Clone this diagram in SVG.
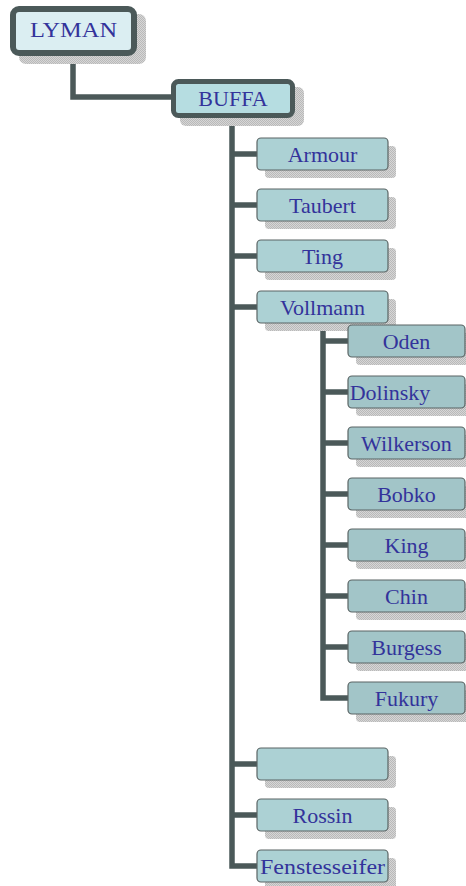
<svg xmlns="http://www.w3.org/2000/svg" width="466" height="886" viewBox="0 0 466 886">
  <defs>
    <!-- dithered grey used for the drop shadows -->
    <pattern id="dither" width="2" height="2" patternUnits="userSpaceOnUse">
      <rect width="2" height="2" fill="#d6d6d6"/>
      <rect width="1" height="1" fill="#b9b9b9"/>
      <rect x="1" y="1" width="1" height="1" fill="#b9b9b9"/>
    </pattern>
  </defs>
  <style>
    .shadow { fill: url(#dither); }
    .lvl1 { fill: #acd1d4; stroke: #5a6464; stroke-width: 1.2; }
    .lvl2 { fill: #a2c5c8; stroke: #5a6464; stroke-width: 1.2; }
    .label { font-family: "Liberation Serif", "Times New Roman", serif; font-size: 22px; fill: #33339b; text-anchor: middle; }
    .wire { fill: none; stroke: #4b5959; stroke-width: 5.5; stroke-linejoin: miter; }
  </style>

  <rect width="466" height="886" fill="#ffffff"/>

  <!-- connectors -->
  <g id="connectors">
    <path class="wire" d="M73,55 V97 H172"/>
    <path class="wire" d="M232,117 V866 H258"/>
    <path class="wire" d="M232,154 H258 M232,205 H258 M232,256 H258 M232,307 H258 M232,764 H258 M232,815 H258"/>
    <path class="wire" d="M323,322 V698 H349"/>
    <path class="wire" d="M323,341 H349 M323,392 H349 M323,443 H349 M323,494 H349 M323,545 H349 M323,596 H349 M323,647 H349"/>
  </g>

  <!-- root -->
  <g id="lyman">
    <rect class="shadow" x="19" y="14" width="127" height="50" rx="7"/>
    <rect x="13" y="9" width="121" height="44" rx="6" fill="#dbeef2" stroke="#4b5959" stroke-width="6"/>
    <text class="label" x="73.5" y="37" textLength="87" lengthAdjust="spacingAndGlyphs">LYMAN</text>
  </g>

  <g id="buffa">
    <rect class="shadow" x="180" y="87" width="124" height="39" rx="6"/>
    <rect x="173.5" y="81.5" width="119" height="34" rx="5" fill="#b6dde1" stroke="#4b5959" stroke-width="5"/>
    <text class="label" x="233" y="106">BUFFA</text>
  </g>

  <!-- first level -->
  <g id="armour">
    <rect class="shadow" x="265" y="146" width="131" height="32" rx="4"/>
    <rect class="lvl1" x="257" y="138" width="131" height="32" rx="4"/>
    <text class="label" x="322.5" y="162">Armour</text>
  </g>
  <g id="taubert">
    <rect class="shadow" x="265" y="197" width="131" height="32" rx="4"/>
    <rect class="lvl1" x="257" y="189" width="131" height="32" rx="4"/>
    <text class="label" x="322.5" y="213">Taubert</text>
  </g>
  <g id="ting">
    <rect class="shadow" x="265" y="248" width="131" height="32" rx="4"/>
    <rect class="lvl1" x="257" y="240" width="131" height="32" rx="4"/>
    <text class="label" x="322.5" y="264">Ting</text>
  </g>
  <g id="vollmann">
    <rect class="shadow" x="265" y="299" width="131" height="32" rx="4"/>
    <rect class="lvl1" x="257" y="291" width="131" height="32" rx="4"/>
    <text class="label" x="322.5" y="315">Vollmann</text>
  </g>

  <!-- second level under Vollmann -->
  <g id="oden">
    <rect class="shadow" x="356" y="333" width="117" height="32" rx="4"/>
    <rect class="lvl2" x="348" y="325" width="117" height="32" rx="4"/>
    <text class="label" x="406.5" y="349">Oden</text>
  </g>
  <g id="dolinsky">
    <rect class="shadow" x="356" y="384" width="117" height="32" rx="4"/>
    <rect class="lvl2" x="348" y="376" width="117" height="32" rx="4"/>
    <text class="label" x="390" y="400">Dolinsky</text>
  </g>
  <g id="wilkerson">
    <rect class="shadow" x="356" y="435" width="117" height="32" rx="4"/>
    <rect class="lvl2" x="348" y="427" width="117" height="32" rx="4"/>
    <text class="label" x="406.5" y="451">Wilkerson</text>
  </g>
  <g id="bobko">
    <rect class="shadow" x="356" y="486" width="117" height="32" rx="4"/>
    <rect class="lvl2" x="348" y="478" width="117" height="32" rx="4"/>
    <text class="label" x="406.5" y="502">Bobko</text>
  </g>
  <g id="king">
    <rect class="shadow" x="356" y="537" width="117" height="32" rx="4"/>
    <rect class="lvl2" x="348" y="529" width="117" height="32" rx="4"/>
    <text class="label" x="406.5" y="553">King</text>
  </g>
  <g id="chin">
    <rect class="shadow" x="356" y="588" width="117" height="32" rx="4"/>
    <rect class="lvl2" x="348" y="580" width="117" height="32" rx="4"/>
    <text class="label" x="406.5" y="604">Chin</text>
  </g>
  <g id="burgess">
    <rect class="shadow" x="356" y="639" width="117" height="32" rx="4"/>
    <rect class="lvl2" x="348" y="631" width="117" height="32" rx="4"/>
    <text class="label" x="406.5" y="655">Burgess</text>
  </g>
  <g id="fukury">
    <rect class="shadow" x="356" y="690" width="117" height="32" rx="4"/>
    <rect class="lvl2" x="348" y="682" width="117" height="32" rx="4"/>
    <text class="label" x="406.5" y="706">Fukury</text>
  </g>

  <!-- remaining first level -->
  <g id="unnamed">
    <rect class="shadow" x="265" y="756" width="131" height="32" rx="4"/>
    <rect class="lvl1" x="257" y="748" width="131" height="32" rx="4"/>
  </g>
  <g id="rossin">
    <rect class="shadow" x="265" y="807" width="131" height="32" rx="4"/>
    <rect class="lvl1" x="257" y="799" width="131" height="32" rx="4"/>
    <text class="label" x="322.5" y="823">Rossin</text>
  </g>
  <g id="fenstesseifer">
    <rect class="shadow" x="265" y="858" width="131" height="32" rx="4"/>
    <rect class="lvl1" x="257" y="850" width="131" height="32" rx="4"/>
    <text class="label" x="322.5" y="874" textLength="125" lengthAdjust="spacingAndGlyphs">Fenstesseifer</text>
  </g>
</svg>
